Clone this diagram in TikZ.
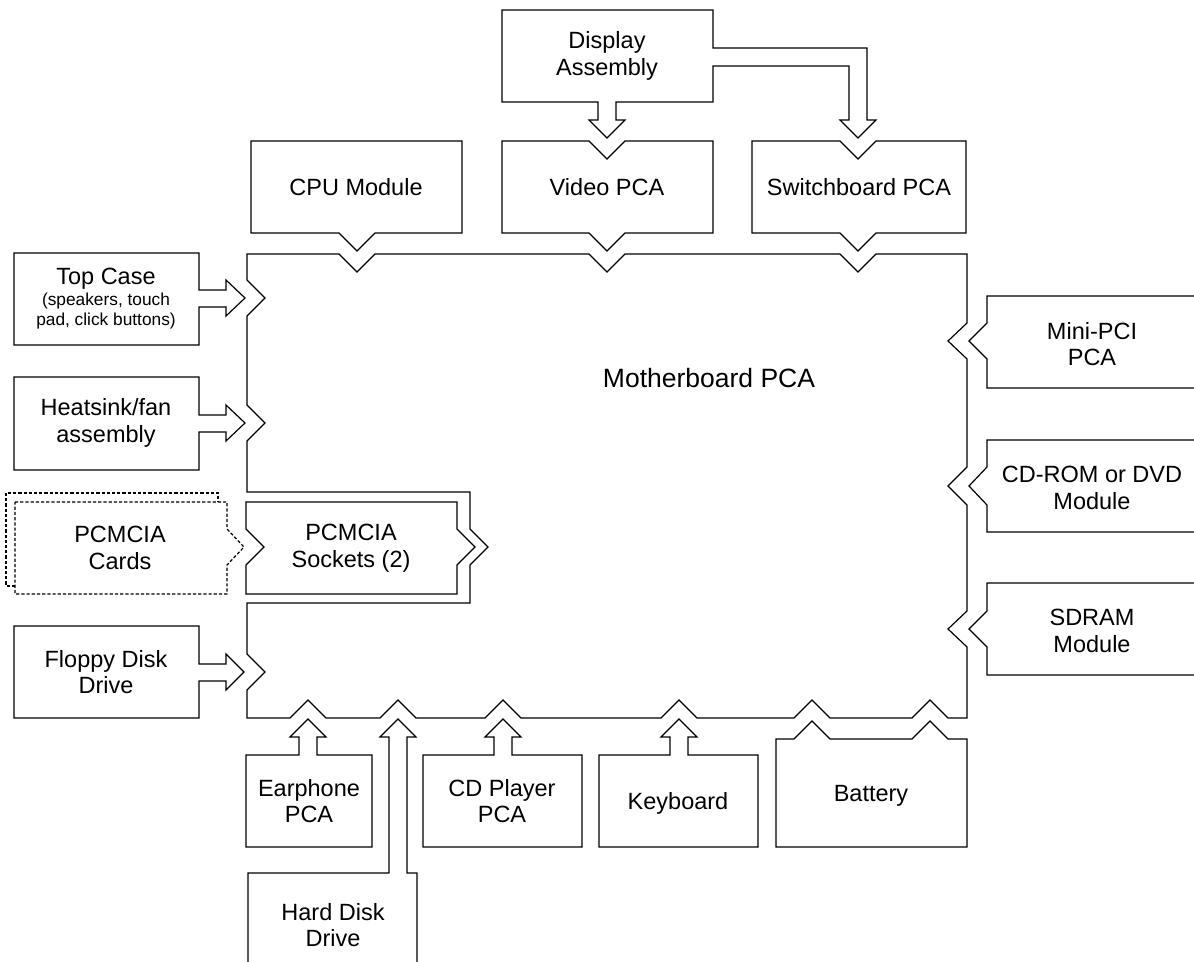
\documentclass[tikz,border=0pt]{standalone}
\usepackage{fontspec}
\setmainfont{Liberation Sans}

\begin{document}
\begin{tikzpicture}[x = 0.5pt, y = -0.5pt]
  % styles
  \tikzstyle{board} = [line width = 0.6pt]
  \tikzstyle{part} = [line width = 0.6pt]
  \tikzstyle{card} = [line width = 0.6pt, dash pattern = on 1.6pt off 1pt]
  \tikzstyle{label} = [align = center, font = \fontsize{11.75}{13.25}\selectfont]
  \tikzstyle{big label} = [font = \fontsize{13.25}{15}\selectfont]

  \clip (0, 0) rectangle (1194, 962);

  % motherboard
  \draw[board] (247, 254) -- (339, 254) -- (357, 272) -- (375, 254)
    -- (589, 254) -- (607, 272) -- (625, 254)
    -- (840, 254) -- (858, 272) -- (876, 254) -- (967, 254)
    -- (967, 323) -- (948, 341) -- (967, 359)
    -- (967, 467) -- (948, 486) -- (967, 505)
    -- (967, 611) -- (948, 629) -- (967, 647)
    -- (967, 718) -- (948, 718) -- (930, 700) -- (912, 718)
    -- (830, 718) -- (812, 700) -- (794, 718)
    -- (697, 718) -- (679, 700) -- (661, 718)
    -- (521, 718) -- (503, 700) -- (485, 718)
    -- (416, 718) -- (398, 700) -- (380, 718)
    -- (326, 718) -- (308, 700) -- (290, 718) -- (247, 718)
    -- (247, 690) -- (265, 672) -- (247, 654)
    -- (247, 603) -- (470, 603) -- (470, 565) -- (488, 547) -- (470, 529)
    -- (470, 492) -- (247, 492)
    -- (247, 441) -- (265, 423) -- (247, 405)
    -- (247, 316) -- (265, 298) -- (247, 280) -- cycle;
  \node[label, big label] (mb) at (709, 378) {Motherboard PCA};

  % display assembly with its two feeds
  \draw[part] (502, 10) -- (713, 10) -- (713, 48) -- (867, 48) -- (867, 120)
    -- (876, 120) -- (858, 138) -- (840, 120) -- (849, 120) -- (849, 66)
    -- (713, 66) -- (713, 102) -- (616, 102) -- (616, 120) -- (625, 120)
    -- (607, 138) -- (589, 120) -- (598, 120) -- (598, 102) -- (502, 102) -- cycle;
  \node[label] (disp) at (607, 56) {Display\\Assembly};

  % top row
  \draw[part] (251, 141) -- (462, 141) -- (462, 233) -- (375, 233)
    -- (357, 251) -- (339, 233) -- (251, 233) -- cycle;
  \node[label] (cpu) at (356, 187) {CPU Module};

  \draw[part] (502, 141) -- (589, 141) -- (607, 159) -- (625, 141) -- (713, 141)
    -- (713, 233) -- (625, 233) -- (607, 251) -- (589, 233) -- (502, 233) -- cycle;
  \node[label] (video) at (607, 187) {Video PCA};

  \draw[part] (752, 141) -- (840, 141) -- (858, 159) -- (876, 141) -- (966, 141)
    -- (966, 233) -- (876, 233) -- (858, 251) -- (840, 233) -- (752, 233) -- cycle;
  \node[label] (switch) at (859, 187) {Switchboard PCA};

  % left column
  \draw[part] (14, 253) -- (199, 253) -- (199, 290) -- (226, 290) -- (226, 280)
    -- (245, 298) -- (226, 316) -- (226, 307) -- (199, 307) -- (199, 345)
    -- (14, 345) -- cycle;
  \node[label] (topcase) at (106, 299) {Top Case\\[-3pt]
    \fontsize{8.65}{10}\selectfont (speakers, touch\\[-3pt]
    \fontsize{8.65}{10}\selectfont pad, click buttons)};

  \draw[part] (14, 377) -- (199, 377) -- (199, 415) -- (226, 415) -- (226, 405)
    -- (245, 423) -- (226, 441) -- (226, 432) -- (199, 432) -- (199, 470)
    -- (14, 470) -- cycle;
  \node[label] (heatsink) at (106, 423) {Heatsink/fan\\assembly};

  \draw[part] (14, 626) -- (199, 626) -- (199, 664) -- (226, 664) -- (226, 654)
    -- (244, 672) -- (226, 690) -- (226, 681) -- (199, 681) -- (199, 718)
    -- (14, 718) -- cycle;
  \node[label] (floppy) at (106, 672) {Floppy Disk\\Drive};

  % pcmcia
  \draw[card] (15, 586) -- (6, 586) -- (6, 493) -- (218, 493) -- (218, 502);
  \draw[card] (15, 502) -- (227, 502) -- (227, 529) -- (244, 547) -- (227, 565)
    -- (227, 594) -- (15, 594) -- cycle;
  \node[label] (cards) at (120, 548) {PCMCIA\\Cards};

  \draw[part] (246, 502) -- (457, 502) -- (457, 529) -- (475, 547) -- (457, 565)
    -- (457, 594) -- (246, 594) -- (246, 565) -- (264, 547) -- (246, 529) -- cycle;
  \node[label] (sockets) at (351, 548) {PCMCIA\\Sockets (2)};

  % bottom row
  \draw[part] (246, 755) -- (299, 755) -- (299, 737) -- (290, 737) -- (308, 719)
    -- (326, 737) -- (317, 737) -- (317, 755) -- (372, 755) -- (372, 847)
    -- (246, 847) -- cycle;
  \node[label] (earphone) at (309, 801) {Earphone\\PCA};

  \draw[part] (248, 970) -- (248, 873) -- (389, 873) -- (389, 737) -- (380, 737)
    -- (398, 719) -- (416, 737) -- (407, 737) -- (407, 873) -- (417, 873)
    -- (417, 970);
  \node[label] (hdd) at (333, 925) {Hard Disk\\Drive};

  \draw[part] (423, 755) -- (494, 755) -- (494, 737) -- (485, 737) -- (503, 719)
    -- (521, 737) -- (512, 737) -- (512, 755) -- (582, 755) -- (582, 847)
    -- (423, 847) -- cycle;
  \node[label] (cdplayer) at (502, 801) {CD Player\\PCA};

  \draw[part] (599, 755) -- (670, 755) -- (670, 737) -- (661, 737) -- (679, 719)
    -- (697, 737) -- (688, 737) -- (688, 755) -- (758, 755) -- (758, 847)
    -- (599, 847) -- cycle;
  \node[label] (keyboard) at (678, 803) {Keyboard};

  \draw[part] (776, 739) -- (794, 739) -- (812, 721) -- (830, 739) -- (912, 739)
    -- (930, 721) -- (948, 739) -- (967, 739) -- (967, 847) -- (776, 847) -- cycle;
  \node[label] (battery) at (871, 796) {Battery};

  % right column
  \draw[part] (1200, 296) -- (987, 296) -- (987, 323) -- (969, 341) -- (987, 359)
    -- (987, 388) -- (1200, 388);
  \node[label] (minipci) at (1092, 344) {Mini-PCI\\PCA};

  \draw[part] (1200, 440) -- (987, 440) -- (987, 467) -- (969, 486) -- (987, 505)
    -- (987, 532) -- (1200, 532);
  \node[label] (cdrom) at (1092, 488) {CD-ROM or DVD\\Module};

  \draw[part] (1200, 583) -- (987, 583) -- (987, 611) -- (969, 629) -- (987, 647)
    -- (987, 675) -- (1200, 675);
  \node[label] (sdram) at (1092, 631) {SDRAM\\Module};

\end{tikzpicture}
\end{document}
